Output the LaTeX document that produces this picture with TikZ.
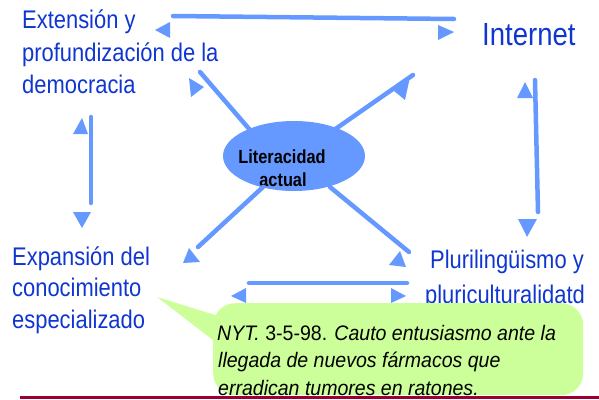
\documentclass[tikz,border=0pt]{standalone}
\usepackage{fontspec}
\usetikzlibrary{shapes.geometric}
\setmainfont{Liberation Sans}
\newfontfamily\narrowf[FakeStretch=0.86]{Liberation Sans}
\newfontfamily\calloutf[FakeStretch=0.93]{Liberation Sans}
\definecolor{arr}{HTML}{6699FF}
\definecolor{txtblue}{HTML}{0F36D0}
\definecolor{callg}{HTML}{CCFF99}
\definecolor{maroonline}{HTML}{990033}
\tikzset{
  arrline/.style={draw=arr, line width=4.5pt, line cap=round},
  arrhead/.style={fill=arr},
  bluetxt/.style={font=\narrowf\fontsize{25.5}{30}\selectfont, text=txtblue, inner sep=0pt, anchor=base west},
  bluectr/.style={bluetxt, anchor=base},
  calltxt/.style={font=\calloutf\fontsize{21}{27}\selectfont, text=black, inner sep=0pt, anchor=base west},
  littxt/.style={font=\narrowf\bfseries\fontsize{19}{23}\selectfont, text=black, inner sep=0pt, anchor=base}
}
\begin{document}
\begin{tikzpicture}[x=1pt,y=-1pt]
\useasboundingbox (0,0) rectangle (599,399);
% texts
\node[bluetxt] (ext1) at (22,28) {Extensión y};
\node[bluetxt] (ext2) at (22,61) {profundización de la};
\node[bluetxt] (ext3) at (22,93) {democracia};
\node[bluetxt, font=\narrowf\fontsize{32}{36}\selectfont] (inet) at (482,45) {Internet};
\node[bluetxt] (exp1) at (12,265) {Expansión del};
\node[bluetxt] (exp2) at (12,296) {conocimiento};
\node[bluetxt] (exp3) at (12,328) {especializado};
\node[bluectr] (plu1) at (507,268) {Plurilingüismo y};
\node[bluectr] (plu2) at (505,303) {pluriculturalidatd};
% top arrow
\draw[arrline] (173,16) -- (454,19);
\fill[arrhead] (155,30) -- (170,22) -- (170,38) -- cycle;
\fill[arrhead] (454,32) -- (438,25) -- (438,40) -- cycle;
% left vertical arrow
\draw[arrline] (91,117) -- (91,203);
\fill[arrhead] (82,118) -- (73,134) -- (88,134) -- cycle;
\fill[arrhead] (73,212) -- (91,212) -- (82,228) -- cycle;
% right vertical arrow
\draw[arrline] (535,80) -- (538,212);
\fill[arrhead] (525,82) -- (517,98) -- (533,98) -- cycle;
\fill[arrhead] (518,219) -- (537,219) -- (527,237) -- cycle;
% bottom horizontal arrow
\draw[arrline] (249,283) -- (407,283);
\fill[arrhead] (231,296) -- (246,288) -- (246,303) -- cycle;
\fill[arrhead] (406,296) -- (391,288) -- (391,303) -- cycle;
% upper diagonals
\draw[arrline] (200,72) -- (250,130);
\fill[arrhead] (189,78) -- (204,87) -- (191,97) -- cycle;
\draw[arrline] (413,75) -- (334,130);
\fill[arrhead] (394,91) -- (405,100) -- (410,77) -- cycle;
% ellipse
\node[ellipse, fill=arr, minimum width=142pt, minimum height=70pt, inner sep=0pt] (lit) at (294,156) {};
\node[littxt] (lit1) at (282,163) {Literacidad};
\node[littxt] (lit2) at (283,186) {actual};
% lower diagonals
\draw[arrline] (263,187) -- (198,247);
\fill[arrhead] (183,263) -- (189,248) -- (200,262) -- cycle;
\draw[arrline] (330,187) -- (409,252);
\fill[arrhead] (389,265) -- (400,251) -- (406,267) -- cycle;
% callout
\node[fill=callg, rounded corners=22pt, minimum width=370pt, minimum height=92pt, inner sep=0pt, anchor=north west] (note) at (213,303) {};
\fill[callg] (157,297) -- (225,318) -- (225,342) -- (213,340) -- cycle;
\node[calltxt] (n1) at (217,340) {\itshape NYT.\upshape\ 3-5-98. \itshape Cauto entusiasmo ante la};
\node[calltxt] (n2) at (218,367) {\itshape llegada de nuevos fármacos que};
\node[calltxt] (n3) at (218,395) {\itshape erradican tumores en ratones.};
% bottom line
\draw[maroonline, line width=3pt] (20,397) -- (599,397);
\end{tikzpicture}
\end{document}
